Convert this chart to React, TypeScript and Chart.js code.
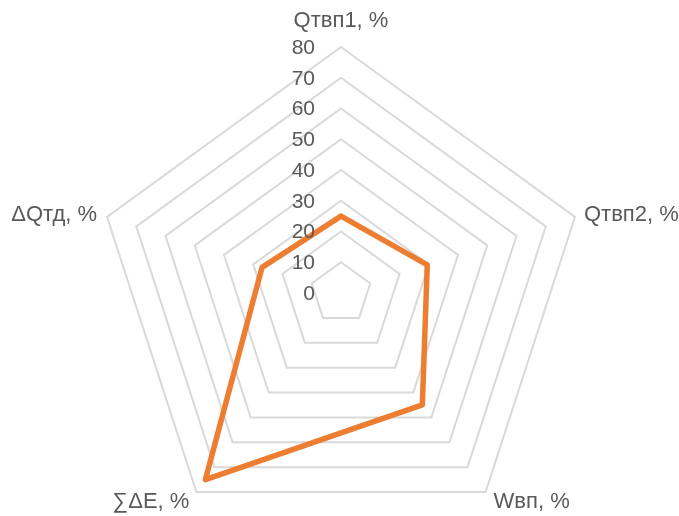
import React, { useEffect, useRef } from "react";
import { Chart, registerables } from "chart.js";

Chart.register(...registerables);

const categories = ["Qтвп1, %", "Qтвп2, %", "Wвп, %", "∑ΔE, %", "ΔQтд, %"];
const seriesValues = [25, 29.5, 45, 75, 27];
const tickValues = [0, 10, 20, 30, 40, 50, 60, 70, 80];

const FONT = "'Liberation Sans', Arial, sans-serif";
const TEXT = "#595959";

// label placement per axis: [align, dx, dy] relative to the outer vertex
const labelPlacement: Array<[CanvasTextAlign, number, number]> = [
  ["center", 0, -26],
  ["left", 9, -2],
  ["left", 8, 10],
  ["right", -7, 10],
  ["right", -10, -2],
];

const textPlugin = {
  id: "textPlugin",
  afterDatasetsDraw(chart: any) {
    const scale = chart.scales.r;
    const ctx = chart.ctx;
    ctx.save();
    ctx.fillStyle = TEXT;
    ctx.textBaseline = "middle";
    ctx.font = `21px ${FONT}`;
    ctx.textAlign = "right";
    tickValues.forEach((v) => {
      const p = scale.getPointPositionForValue(0, v);
      ctx.fillText(String(v), scale.xCenter - 26, p.y + 1);
    });
    ctx.font = `22px ${FONT}`;
    categories.forEach((label, i) => {
      const p = scale.getPointPosition(i, scale.drawingArea);
      const [align, dx, dy] = labelPlacement[i];
      ctx.textAlign = align;
      ctx.fillText(label, p.x + dx, p.y + dy);
    });
    ctx.restore();
  },
};

export default function App() {
  const ref = useRef<HTMLCanvasElement | null>(null);
  useEffect(() => {
    if (!ref.current) return;
    const chart = new Chart(ref.current, {
      type: "radar",
      data: {
        labels: categories,
        datasets: [
          {
            data: seriesValues,
            borderColor: "#ED7D31",
            backgroundColor: "rgba(0,0,0,0)",
            borderWidth: 5.5,
            pointRadius: 0,
            fill: false,
            borderJoinStyle: "round",
          },
        ],
      },
      options: {
        animation: false,
        responsive: false,
        maintainAspectRatio: false,
        layout: { padding: 0 },
        plugins: { legend: { display: false }, tooltip: { enabled: false } },
        scales: {
          r: {
            min: 0,
            max: 80,
            beginAtZero: true,
            ticks: { display: false, stepSize: 10 },
            angleLines: { display: false },
            grid: { color: "#d9d9d9", lineWidth: 2, circular: false },
            pointLabels: { display: false },
            afterFit: (scale: any) => {
              scale.xCenter = 341;
              scale.yCenter = 293;
              scale.drawingArea = 246;
            },
          },
        },
      },
      plugins: [textPlugin],
    });
    return () => chart.destroy();
  }, []);
  return (
    <div style={{ position: "fixed", left: 0, top: 0, width: 679, height: 516, background: "#fff" }}>
      <canvas ref={ref} width={679} height={516} style={{ width: 679, height: 516 }} />
    </div>
  );
}
